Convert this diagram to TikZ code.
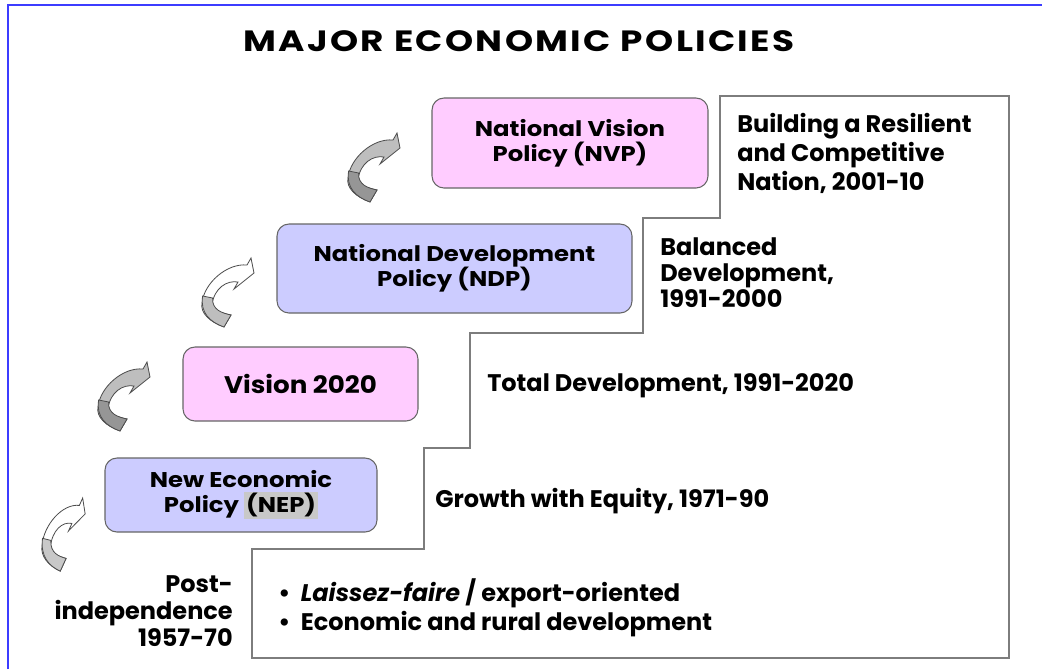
\documentclass[tikz,border=0pt]{standalone}
\usepackage{fontspec}
\setmainfont{Poppins}
\newfontfamily\boxfont[FakeStretch=1.14]{Poppins}
\newfontfamily\visfont[FakeStretch=1.09]{Poppins}
\newfontfamily\titlefont[FakeStretch=1.22,LetterSpace=8]{Poppins}
\usepackage{tikz}
\usetikzlibrary{calc}
\usetikzlibrary{positioning,shapes}
\usepackage{xcolor}
\definecolor{pinkbox}{RGB}{255,204,255}
\definecolor{bluebox}{RGB}{204,204,255}
\definecolor{frameblue}{RGB}{60,60,255}
\definecolor{stairgray}{RGB}{125,125,125}
\definecolor{nepgray}{RGB}{200,200,200}
\definecolor{arrowgray}{RGB}{190,190,190}
\definecolor{arrowdark}{RGB}{150,150,150}
\newcommand{\hl}[1]{{\setlength{\fboxsep}{1.5pt}\colorbox{nepgray}{#1}}}
% curved block arrow: position, front fill, back fill, extra options
\newcommand{\turnarrow}[4]{
  \begin{scope}[shift={#1},#4]
    \filldraw[draw=black!70,line width=0.6pt,fill=#2] (45,7) -- (49,0) -- (52,15) -- (32,31) -- (36,24)
      .. controls (25,22) and (12,30) .. (10,47)
      .. controls (10,52) and (20,55) .. (29,57) -- (22,69)
      .. controls (8,64) and (-2,55) .. (0,45)
      .. controls (2,25) and (25,5) .. (45,7) -- cycle;
    \filldraw[draw=black!70,line width=0.6pt,fill=#3] (0.6,38) -- (10.6,40)
      .. controls (10,52) and (20,55) .. (29,57) -- (22,69)
      .. controls (8,64) and (-2,55) .. (0.6,38) -- cycle;
  \end{scope}}
\tikzset{
  policy/.style={draw=black!60,line width=0.8pt,rounded corners=9pt,inner sep=0pt,align=center,
    font=\boxfont\bfseries\fontsize{16}{19}\selectfont},
  era/.style={inner sep=0pt,font=\bfseries\fontsize{18}{21}\selectfont},
  stair/.style={draw=stairgray,line width=1.5pt}
}
\begin{document}
\begin{tikzpicture}[x=0.75pt,y=-0.75pt]
  \useasboundingbox (0,0) rectangle (1042,669);
  \draw[frameblue,line width=1.5pt] (8,669) -- (8,5) -- (1042,5);
  \node[font=\titlefont\bfseries\fontsize{22}{26}\selectfont,inner sep=0pt] (title) at (519,41) {MAJOR ECONOMIC POLICIES};

  % staircase
  \draw[stair] (252,658) -- (252,549) -- (424,549) -- (424,448) -- (470,448) -- (470,333)
    -- (643,333) -- (643,218) -- (720,218) -- (720,96) -- (1009,96) -- (1009,658) -- cycle;

  % policy boxes
  \node[policy,fill=pinkbox,minimum width=207pt,minimum height=67.5pt] (nvp) at (570,143) {National Vision\\Policy (NVP)};
  \node[policy,fill=bluebox,minimum width=266.25pt,minimum height=66.75pt] (ndp) at (454.5,268.5) {National Development\\Policy (NDP)};
  \node[policy,fill=pinkbox,minimum width=176.25pt,minimum height=55.5pt,font=\visfont\bfseries\fontsize{18}{21}\selectfont] (vis) at (300.5,384) {Vision 2020};
  \node[policy,fill=bluebox,minimum width=204pt,minimum height=55.5pt] (nep) at (241,495) {New Economic\\Policy \hl{(NEP)}};

  % eras on the steps
  \node[era,anchor=north west,align=left,font=\bfseries\fontsize{18}{21.75}\selectfont] (tnvp) at (737,113) {Building a Resilient\\and Competitive\\Nation, 2001-10};
  \node[era,anchor=north west,align=left,font=\bfseries\fontsize{18}{19.5}\selectfont] (tndp) at (660,237) {Balanced\\Development,\\1991-2000};
  \node[era,anchor=base west] (tvis) at (487,391) {Total Development, 1991-2020};
  \node[era,anchor=base west] (tnep) at (435,507) {Growth with Equity, 1971-90};
  \node[era,anchor=north east,align=right,font=\bfseries\fontsize{18}{20.25}\selectfont] (tpost) at (233,575) {Post-\\independence\\1957-70};
  \node[era,anchor=north west,align=left,font=\bfseries\fontsize{18}{21.75}\selectfont] (tbul) at (278,578)
    {\textbullet\hspace{8pt}\textit{Laissez-faire} / export-oriented\\\textbullet\hspace{8pt}Economic and rural development};

  % curved arrows
  \turnarrow{(348,133)}{arrowgray}{arrowdark}{}
  \turnarrow{(202,258)}{white}{arrowgray}{}
  \turnarrow{(98,362)}{arrowgray}{arrowdark}{}
  \turnarrow{(42,498)}{white}{nepgray}{xscale=0.83,yscale=1.06}
\end{tikzpicture}
\end{document}
